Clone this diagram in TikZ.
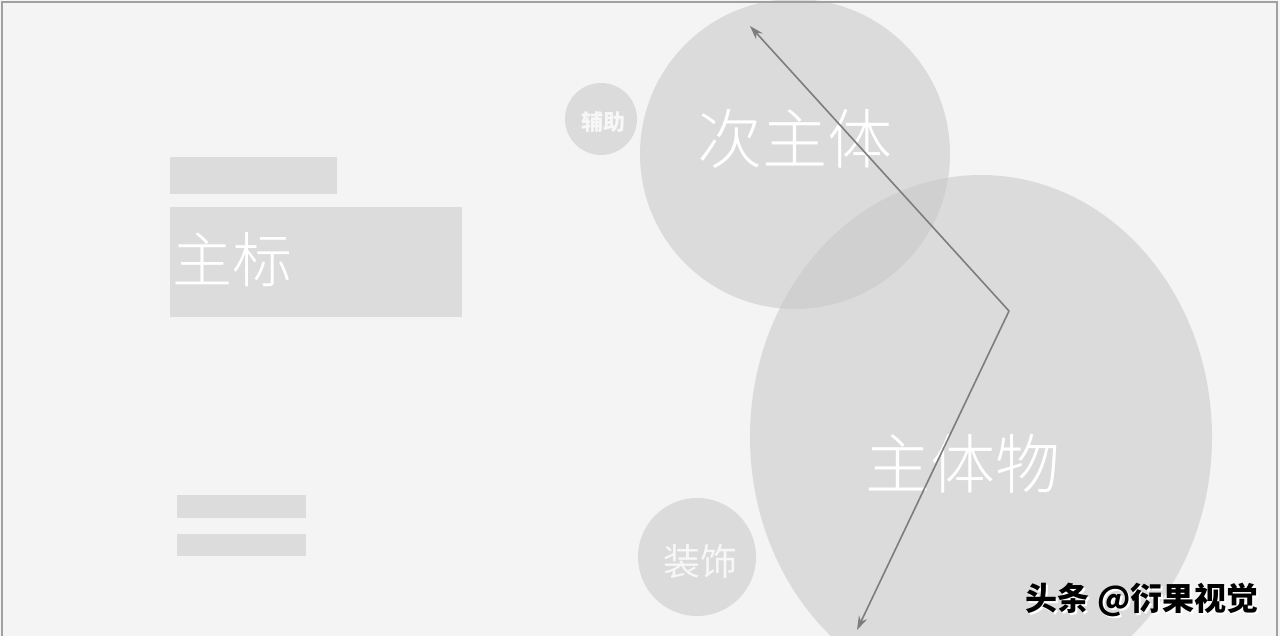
\documentclass[tikz,border=0pt]{standalone}
\usepackage{fontspec}
\newfontfamily\cjk{Noto Sans CJK SC}
\newfontfamily\cjkl{Noto Sans CJK SC Light}
\usetikzlibrary{arrows.meta}
\definecolor{bg}{RGB}{244,244,244}
\definecolor{blk}{RGB}{220,220,220}
\definecolor{circ}{RGB}{200,200,200}
\definecolor{arr}{RGB}{125,125,125}
\definecolor{frame}{RGB}{160,160,160}
\tikzset{
  block/.style={fill=blk, draw=none},
  disc/.style={fill=circ, fill opacity=0.55, draw=none},
  wtext/.style={text=white, inner sep=0pt},
  conn/.style={draw=arr, line width=1.6pt, line join=round,
    {Stealth[length=14pt,width=9pt]}-{Stealth[length=14pt,width=9pt]}},
}
\begin{document}
\begin{tikzpicture}[x=1pt,y=-1pt]
\useasboundingbox (0,0) rectangle (1280,636);
\fill[bg] (0,0) rectangle (1280,636);
\begin{scope}
\clip (0,0) rectangle (1280,636);
% blocks
\fill[block] (170,157) rectangle (337,194);
\fill[block] (170,207) rectangle (462,317);
\fill[block] (177,495) rectangle (306,518);
\fill[block] (177,534) rectangle (306,556);
% circles
\fill[disc] (601,119) circle[radius=36];
\fill[disc] (795,154) ellipse[x radius=155, y radius=155];
\fill[disc] (981,437) ellipse[x radius=231, y radius=262];
\fill[disc] (697,557) circle[radius=59];
% labels
\node[wtext, font=\cjkl\fontsize{60}{60}\selectfont, anchor=west] (zb) at (172,260) {主标};
\node[wtext, font=\cjkl\fontsize{65}{65}\selectfont] (czt) at (795,139) {次主体};
\node[wtext, font=\cjkl\fontsize{65}{65}\selectfont] (ztw) at (963,464) {主体物};
\node[wtext, font=\cjk\fontsize{37}{37}\selectfont, text=white!94!gray] (zs) at (700,562) {装饰};
\node[wtext, font=\cjk\bfseries\fontsize{22}{22}\selectfont, text=white!94!gray] (fz) at (603,122) {辅助};
% arrow
\coordinate (a1) at (857,630);
\coordinate (a2) at (1009,311);
\coordinate (a3) at (750,26);
\draw[conn] (a1) -- (a2) -- (a3);
% frame
\draw[frame, line width=1.2pt] (2,640) -- (2,2) -- (1277,2) -- (1277,640);
% watermark
\node[inner sep=0pt, text=white, font=\cjk\bfseries\fontsize{32}{32}\selectfont] (wm0) at (1144,602) {头条 @衍果视觉};
\node[inner sep=0pt, text=black, font=\cjk\bfseries\fontsize{32}{32}\selectfont] (wm) at (1142,600) {头条 @衍果视觉};
\end{scope}
\end{tikzpicture}
\end{document}
